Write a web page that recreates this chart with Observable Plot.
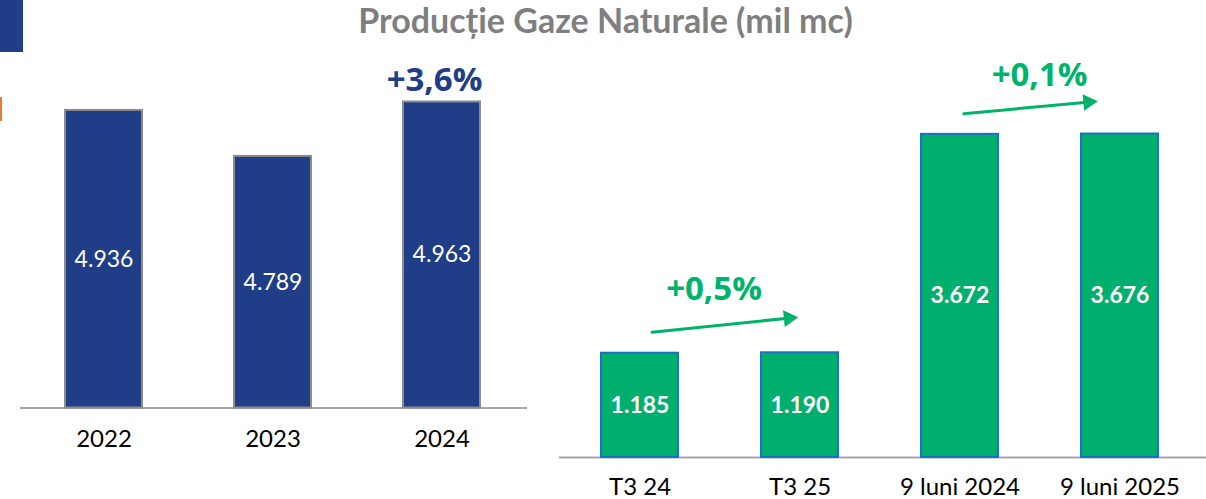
<!DOCTYPE html>
<html><head><meta charset="utf-8">
<script src="https://cdn.jsdelivr.net/npm/d3@7"></script>
<script src="https://cdn.jsdelivr.net/npm/@observablehq/plot@0.6"></script>
<style>
html,body{margin:0;padding:0;background:#fff;}
#wrap{position:relative;width:1206px;height:499px;overflow:hidden;background:#fff;}
#wrap svg{position:absolute;left:0;top:0;}
#title{position:absolute;left:0;width:1211px;top:3px;text-align:center;font-family:Lato;font-weight:700;font-size:34px;line-height:33px;color:#7f7f7f;white-space:nowrap;}
#decoA{position:absolute;left:0;top:0;width:23px;height:52px;background:#203e88;}
#decoB{position:absolute;left:0;top:97px;width:2px;height:24px;background:#ed7d31;}
</style></head><body>
<div id="wrap">
  <div id="decoA"></div><div id="decoB"></div>
  <div id="title">Producție Gaze Naturale (mil mc)</div>
</div>
<script>
// ---- data ----
const yearCategories = ["2022", "2023", "2024"];
const yearValues = [4936, 4789, 4963];
const yearAxisStart = 3985;          // left panel value axis does not start at 0
const periodCategories = ["T3 24", "T3 25", "9 luni 2024", "9 luni 2025"];
const periodValues = [1185, 1190, 3672, 3676];
const periodAxisStart = 0;

// change annotations
const yearChangeLabel = "+3,6%";
const yearChangeCategory = "2024";
const yearChangeLevel = 5032;
const periodChangeLabels = ["+0,5%", "+0,1%"];
const arrowFrom = ["T3 24", "9 luni 2024"];
const arrowTo = ["T3 25", "9 luni 2025"];
const arrowFromLevel = [1410, 3902];
const arrowToLevel = [1597, 4073];
const periodChangeLevel = [1909, 4341];

// ---- helpers ----
const fmt = d3.formatLocale({decimal: ",", thousands: ".", grouping: [3], currency: ["", ""]}).format(",d");
const yearData = yearCategories.map((c, i) => ({category: c, value: yearValues[i]}));
const periodData = periodCategories.map((c, i) => ({category: c, value: periodValues[i]}));

const BLUE = "#203e88", GREEN = "#00af6e", GREEN_TXT = "#00b36b";
const baseStyle = {fontFamily: "Lato", fontSize: "24px", color: "#000", background: "transparent", overflow: "visible"};

const left = Plot.plot({
  width: 1206, height: 499,
  marginLeft: 20, marginRight: 679, marginTop: 89.9, marginBottom: 91.5,
  style: baseStyle,
  x: {domain: yearCategories, range: [31.15, 514.4], paddingInner: 0.545, paddingOuter: 0.2},
  y: {domain: [yearAxisStart, 5000], axis: null},
  marks: [
    Plot.ruleY([yearAxisStart], {stroke: "#a6a6a6", strokeWidth: 2}),
    Plot.barY(yearData, {x: "category", y1: () => yearAxisStart, y2: "value", fill: BLUE, stroke: "#8c8c8c", strokeWidth: 2}),
    Plot.text(yearData, {x: "category", y: d => (yearAxisStart + d.value) / 2, text: d => fmt(d.value), fill: "#fff", fontSize: 23, fontFamily: "Lato"}),
    Plot.axisX({tickSize: 0, tickPadding: 22, label: null, fill: "#000", fontSize: 24, fontFamily: "Lato"}),
    Plot.text([yearChangeLabel], {x: () => yearChangeCategory, y: () => yearChangeLevel, text: d => d, dx: -7.5,
      fill: BLUE, fontSize: 33, fontWeight: "bold", fontFamily: "Open Sans"})
  ]
});

const arrowInsetStart = [12, 3.8];
const arrowInsetEnd = [1.7, 22.3];
const headRotate = [84.1, 84.6];
const headDx = [-11.3, -31.8];
const headDy = [1.2, 3.0];
const labelDx = [74, 79.5];

const right = Plot.plot({
  width: 1206, height: 499,
  marginLeft: 559, marginRight: 0, marginTop: 105, marginBottom: 42,
  style: baseStyle,
  x: {domain: periodCategories, range: [579.7, 1179.2], paddingInner: 0.52, paddingOuter: 0.13},
  y: {domain: [periodAxisStart, 4000], axis: null},
  marks: [
    Plot.ruleY([periodAxisStart], {stroke: "#a6a6a6", strokeWidth: 2}),
    Plot.barY(periodData, {x: "category", y1: () => periodAxisStart, y2: "value", fill: GREEN, stroke: "#1c6fc6", strokeWidth: 2}),
    Plot.text(periodData, {x: "category", y: d => (periodAxisStart + d.value) / 2, text: d => fmt(d.value), fill: "#fff", fontSize: 23, fontWeight: "bold", fontFamily: "Lato"}),
    Plot.axisX({tickSize: 0, tickPadding: 20, label: null, fill: "#000", fontSize: 24, fontFamily: "Lato"}),
    arrowFrom.map((f, i) => [
      Plot.arrow([i], {x1: () => f, x2: () => arrowTo[i], y1: () => arrowFromLevel[i], y2: () => arrowToLevel[i],
        stroke: GREEN_TXT, strokeWidth: 3, headLength: 0, insetStart: arrowInsetStart[i], insetEnd: arrowInsetEnd[i] + 8}),
      Plot.dot([i], {x: () => arrowTo[i], y: () => arrowToLevel[i], symbol: "triangle", r: 6.2, fill: GREEN_TXT, stroke: "none",
        rotate: headRotate[i], dx: headDx[i], dy: headDy[i]}),
      Plot.text([periodChangeLabels[i]], {x: () => f, y: () => periodChangeLevel[i], text: d => d, dx: labelDx[i],
        fill: GREEN_TXT, fontSize: 33, fontWeight: "bold", fontFamily: "Open Sans"})
    ])
  ]
});

const wrap = document.getElementById("wrap");
wrap.appendChild(left);
wrap.appendChild(right);
</script>
</body></html>
